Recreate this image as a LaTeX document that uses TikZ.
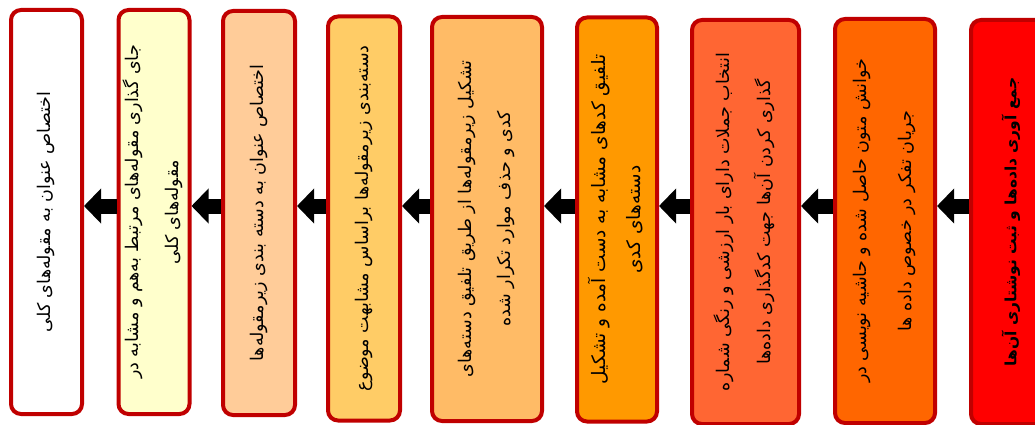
\documentclass[tikz,border=0pt]{standalone}
\usepackage{fontspec}
\usepackage{graphicx}
\newfontfamily\fafont[Script=Arabic]{DejaVu Sans}
\TeXXeTstate=1
\usetikzlibrary{arrows.meta}
\definecolor{rim}{HTML}{C00000}
\definecolor{fillB}{HTML}{FFFFCC}
\definecolor{fillC}{HTML}{FFCC99}
\definecolor{fillD}{HTML}{FFCC66}
\definecolor{fillE}{HTML}{FFBB66}
\definecolor{fillF}{HTML}{FF9900}
\definecolor{fillG}{HTML}{FF6633}
\definecolor{fillH}{HTML}{FF6600}
\definecolor{fillI}{HTML}{FF0000}
\newcommand\fa[1]{\beginR #1\endR}
\newcommand\vtext[2][17.5]{\rotatebox{90}{\fafont\fontsize{#1}{21}\selectfont\begin{tabular}{@{}c@{}}#2\end{tabular}}}

\begin{document}
\begin{tikzpicture}[x=1pt, y=-1pt,
    stage/.style={draw=rim, line width=4pt, rounded corners=10pt, inner sep=0pt, minimum height=404pt},
    flow/.style={line width=15pt, -{Triangle[length=17pt, width=34pt]}}]
    \useasboundingbox (0,0) rectangle (1035,425);
    \coordinate (mid) at (0,206);
    \node[stage, fill=white, minimum width=71pt] (s1) at (46.5,212) {\vtext{\fa{اختصاص عنوان به مقوله^^^^200cهای کلی}}};
    \node[stage, fill=fillB, minimum width=71pt] (s2) at (154,212) {\vtext{\fa{جای گذاری مقوله^^^^200cهای مرتبط به^^^^200cهم و مشابه در}\\[19pt]\fa{مقوله^^^^200cهای کلی}}};
    \node[stage, fill=fillC, minimum width=72pt] (s3) at (259,213) {\vtext{\fa{اختصاص عنوان  به دسته بندی زیرمقوله^^^^200cها}}};
    \node[stage, fill=fillD, minimum width=72pt] (s4) at (364,218.5) {\vtext{\fa{دسته^^^^200cبندی زیرمقوله^^^^200cها براساس مشابهت موضوع}}};
    \node[stage, fill=fillE, minimum width=110pt] (s5) at (487,219) {\vtext{\fa{تشکیل زیرمقوله^^^^200cها از طریق تلفیق دسته^^^^200cهای}\\[18pt]\fa{کدی و حذف موارد تکرار شده}}};
    \node[stage, fill=fillF, minimum width=80pt] (s6) at (617,219.5) {\vtext[18.5]{\fa{تلفیق کدهای مشابه به دست آمده و تشکیل}\\[14pt]\fa{دسته^^^^200cهای کدی}}};
    \node[stage, fill=fillG, minimum width=107pt] (s7) at (745.5,222) {\vtext{\fa{انتخاب جملات دارای بار ارزشی و رنگی شماره}\\[18pt]\fa{گذاری کردن آن^^^^200cها جهت کدگذاری داده^^^^200cها}}};
    \node[stage, fill=fillH, minimum width=100pt] (s8) at (885,221) {\vtext{\fa{خوانش متون حاصل شده و حاشیه نویسی در}\\[24pt]\fa{جریان تفکر در خصوص داده ها}}};
    \node[stage, fill=fillI, minimum width=82pt] (s9) at (1012,222) {\vtext[15.5]{\bfseries\fa{جمع آوری داده^^^^200cها و ثبت نوشتاری آن^^^^200cها}}};
    % arrows from step to step
    \draw[flow](s9.west |- mid)--(s8.east |- mid);
    \draw[flow](s8.west |- mid)--(s7.east |- mid);
    \draw[flow](s7.west |- mid)--(s6.east |- mid);
    \draw[flow](s6.west |- mid)--(s5.east |- mid);
    \draw[flow](s5.west |- mid)--(s4.east |- mid);
    \draw[flow](s4.west |- mid)--(s3.east |- mid);
    \draw[flow](s3.west |- mid)--(s2.east |- mid);
    \draw[flow](s2.west |- mid)--(s1.east |- mid);
\end{tikzpicture}
\end{document}
